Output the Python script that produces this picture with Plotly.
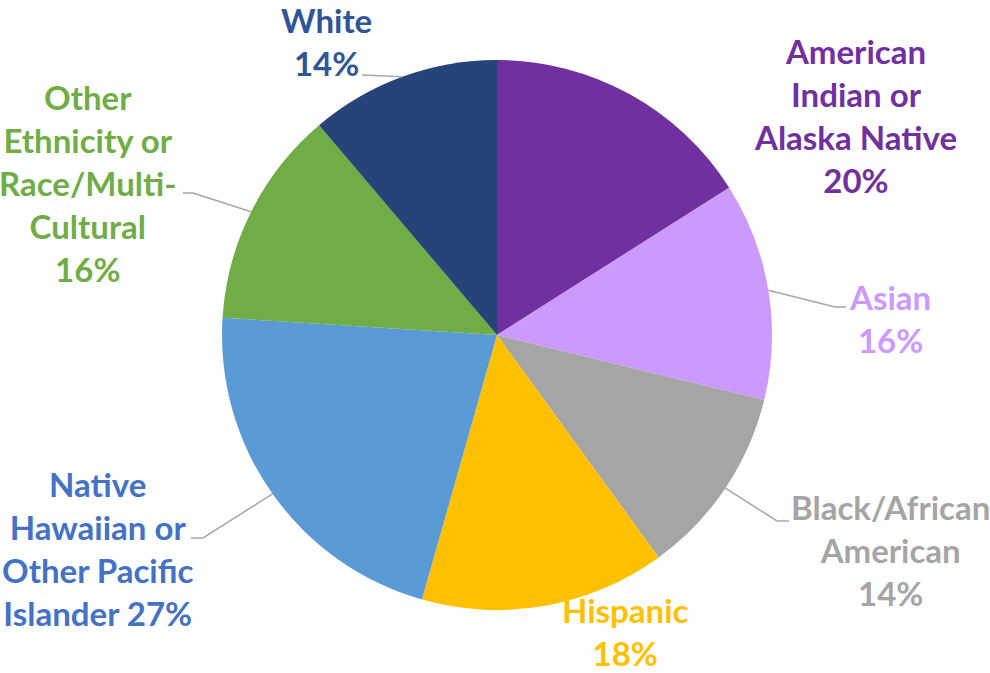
import math
import plotly.graph_objects as go

# ---- data ----
categories = ["American Indian or Alaska Native", "Asian", "Black/African American",
              "Hispanic", "Native Hawaiian or Other Pacific Islander",
              "Other Ethnicity or Race/Multi-Cultural", "White"]
values = [20, 16, 14, 18, 27, 16, 14]
label_lines = [
    ["American", "Indian or", "Alaska Native"],
    ["Asian"],
    ["Black/African", "American"],
    ["Hispanic"],
    ["Native", "Hawaiian or", "Other Pacific", "Islander"],
    ["Other", "Ethnicity or", "Race/Multi-", "Cultural"],
    ["White"],
]
same_line_pct = [False, False, False, False, True, False, False]

# ---- styles ----
slice_colors = ["#7030A0", "#CC99FF", "#A5A5A5", "#FFC000", "#5B9BD5", "#70AD47", "#264478"]
text_colors = ["#7030A0", "#CC99FF", "#A5A5A5", "#FFC000", "#4472C4", "#70AD47", "#2F5597"]

W, H = 990, 673
CX, CY, R = 497, 335, 275
FONT = "Lato"
FS = 33

# label centre offsets (pixels from pie centre) and leader-line end offsets
label_pos = [(358, -220), (393, -17), (393, 215), (128, 296), (-399, 213), (-409, -152), (-171, -294)]
leader = [None, ((338, -28), (349, -28)), ((280, 186), (292, 186)), None,
          ((-294, 203), (-306, 203)), ((-304, -142), (-314, -142)), ((-135, -260), (-135, -260))]

def px(x):
    return x / W

def py(y):
    return 1 - y / H

fig = go.Figure(go.Pie(
    labels=categories,
    values=values,
    sort=False,
    direction="clockwise",
    rotation=0,
    marker=dict(colors=slice_colors, line=dict(width=0)),
    textinfo="none",
    hoverinfo="label+value",
    showlegend=False,
    domain=dict(x=[px(CX - R), px(CX + R)], y=[py(CY + R), py(CY - R)]),
))

total = sum(values)
cum = 0
annotations = []
shapes = []
for i, v in enumerate(values):
    mid = (cum + v / 2) / total * 2 * math.pi
    cum += v
    lines = list(label_lines[i])
    pct = f"{v}%"
    if same_line_pct[i]:
        lines[-1] = lines[-1] + " " + pct
    else:
        lines.append(pct)
    dx, dy = label_pos[i]
    annotations.append(dict(
        x=px(CX + dx), y=py(CY + dy), xref="paper", yref="paper",
        text="<br>".join(f"<b>{l}</b>" for l in lines),
        showarrow=False, align="center", xanchor="center", yanchor="middle",
        borderpad=0,
        font=dict(family=FONT, size=FS, color=text_colors[i]),
    ))
    if leader[i] is not None:
        ex = CX + R * math.sin(mid)
        ey = CY - R * math.cos(mid)
        (bx, by), (tx, ty) = leader[i]
        path = f"M {px(ex)},{py(ey)} L {px(CX + bx)},{py(CY + by)} L {px(CX + tx)},{py(CY + ty)}"
        shapes.append(dict(type="path", path=path, xref="paper", yref="paper",
                           line=dict(color="#A6A6A6", width=1.5)))

fig.update_layout(
    width=W, height=H,
    margin=dict(l=0, r=0, t=0, b=0),
    paper_bgcolor="white", plot_bgcolor="white",
    annotations=annotations,
    shapes=shapes,
    font=dict(family=FONT),
)

fig.write_html("out.html", config={"displayModeBar": False},
               post_script="document.body.style.margin='0';document.body.style.overflow='hidden';")
